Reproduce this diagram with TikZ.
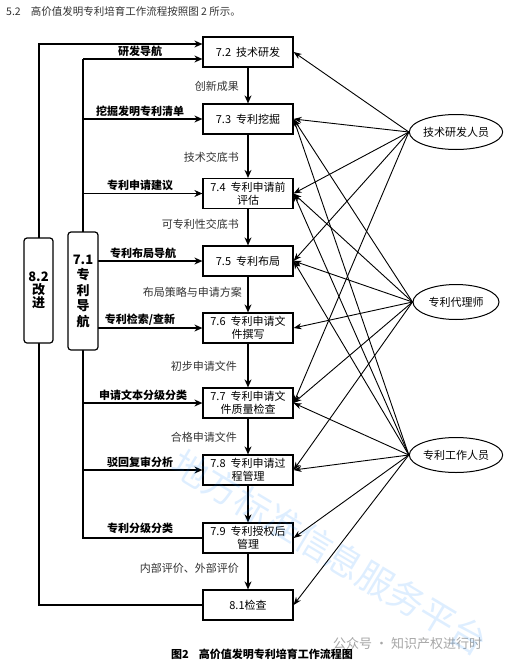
\documentclass[tikz,border=0pt]{standalone}
\usepackage{fontspec}
\setmainfont{Noto Sans CJK SC}
\usetikzlibrary{arrows.meta,shapes.geometric,calc}
\begin{document}
\begin{tikzpicture}[x=1pt,y=-1pt,
  box/.style={draw, line width=1.2pt, fill=white, minimum width=90pt, minimum height=30pt, inner sep=1pt, align=center, font=\fontsize{11}{13}\selectfont},
  rbox/.style={draw, line width=1.2pt, fill=white, rounded corners=3pt, align=center, inner sep=0pt},
  ell/.style={ellipse, draw, line width=1pt, fill=white, minimum width=86pt, minimum height=35pt, inner sep=0pt, font=\fontsize{11}{13}\selectfont},
  arr/.style={line width=1.3pt, -{Stealth[length=8pt,width=7pt]}},
  parr/.style={line width=0.9pt, -{Stealth[length=8pt,width=6pt]}},
  plain/.style={line width=1.3pt},
  lbl/.style={font=\fontsize{11}{13}\selectfont\bfseries, inner sep=1pt, anchor=south},
  flow/.style={font=\fontsize{11}{13}\selectfont, text=black!80, inner sep=1pt, anchor=east},
]
\useasboundingbox[fill=white] (0,0) rectangle (512,664);

% title
\node[anchor=west, inner sep=0pt, font=\fontsize{10.5}{12}\selectfont, text=black!80] (title) at (6,12) {5.2\hspace{10pt}高价值发明专利培育工作流程按照图 2 所示。};

% process boxes
\node[box] (r72) at (248,52) {7.2\hspace{5pt}技术研发};
\node[box] (r73) at (248,119) {7.3\hspace{5pt}专利挖掘};
\node[box] (r74) at (248,193.5) {7.4\hspace{5pt}专利申请前\\评估};
\node[box] (r75) at (248,261) {7.5\hspace{5pt}专利布局};
\node[box] (r76) at (248,328) {7.6\hspace{5pt}专利申请文\\件撰写};
\node[box] (r77) at (248,403) {7.7\hspace{5pt}专利申请文\\件质量检查};
\node[box] (r78) at (248,470) {7.8\hspace{5pt}专利申请过\\程管理};
\node[box] (r79) at (248,538) {7.9\hspace{5pt}专利授权后\\管理};
\node[box] (r81) at (248,605) {8.1检查};

% vertical flow
\draw[arr] (r72) -- (r73);
\draw[arr] (r73) -- (r74);
\draw[arr] (r74) -- (r75);
\draw[arr] (r75) -- (r76);
\draw[arr] (r76) -- (r77);
\draw[arr] (r77) -- (r78);
\draw[arr] (r78) -- (r79);
\draw[arr] (r79) -- (r81);

\node[flow] (f1) at (240,86) {创新成果};
\node[flow] (f2) at (240,157) {技术交底书};
\node[flow] (f3) at (240,224) {可专利性交底书};
\node[flow] (f4) at (243,292) {布局策略与申请方案};
\node[flow] (f5) at (238,366) {初步申请文件};
\node[flow] (f6) at (238,437) {合格申请文件};
\node[flow] (f7) at (240,568) {内部评价、外部评价};

% 8.2 loop
\coordinate (x82) at (39,0);
\draw[arr] (r81.west) -- (r81.west -| x82) -- (x82 |- 0,44) -- ([yshift=8pt]r72.west);

% 7.1 navigation lines
\coordinate (x71) at (83,0);
\draw[plain] (x71 |- 0,59) -- (x71 |- r79.west) -- (r79.west);
\draw[arr] (x71 |- 0,59) -- ([yshift=-7pt]r72.west);
\draw[arr] (x71 |- r73.west) -- (r73.west);
\draw[arr] (x71 |- r74.west) -- (r74.west);
\draw[arr] (x71 |- r75.west) -- (r75.west);
\draw[arr] (x71 |- r76.west) -- (r76.west);
\draw[arr] (x71 |- r77.west) -- (r77.west);
\draw[arr] (x71 |- r78.west) -- (r78.west);

\node[lbl] (l1) at (140,58) {研发导航};
\node[lbl] (l2) at (140,118) {挖掘发明专利清单};
\node[lbl] (l3) at (140,192) {专利申请建议};
\node[lbl] (l4) at (143,260) {专利布局导航};
\node[lbl] (l5) at (140,327) {专利检索/查新};
\node[lbl] (l6) at (143,402) {申请文本分级分类};
\node[lbl] (l7) at (140,469) {驳回复审分析};
\node[lbl] (l8) at (140,535) {专利分级分类};

% side boxes
\node[rbox, minimum width=29pt, minimum height=105pt, font=\fontsize{13}{13}\selectfont\bfseries] (b82) at (38.5,290.5) {8.2\\改\\进};
\node[rbox, minimum width=30pt, minimum height=118pt, font=\fontsize{13}{15.5}\selectfont\bfseries] (b71) at (83,291) {7.1\\专\\利\\导\\航};

% roles
\node[ell] (e1) at (456,132) {技术研发人员};
\node[ell] (e2) at (456,302) {专利代理师};
\node[ell] (e3) at (456,455) {专利工作人员};

\foreach \t in {r72,r73,r74,r75,r77}{\draw[parr] (e1.west) -- (\t.east);}
\foreach \t in {r73,r74,r75,r76,r77,r78}{\draw[parr] (e2.west) -- (\t.east);}
\foreach \t in {r73,r74,r75,r77,r78,r79,r81}{\draw[parr] (e3.west) -- (\t.east);}

% caption and marks
\node[font=\fontsize{11}{13}\selectfont\bfseries] (cap) at (262,654) {图2\hspace{10pt}高价值发明专利培育工作流程图};
\node[anchor=west, inner sep=0pt, text=black!35, font=\fontsize{13}{15}\selectfont] (wm) at (333,644) {公众号 · 知识产权进行时};
\node[text=blue!50!cyan, opacity=0.13, rotate=-31, font=\fontsize{36}{38}\selectfont] (wm2) at (330,552) {地方标准信息服务平台};
\end{tikzpicture}
\end{document}
